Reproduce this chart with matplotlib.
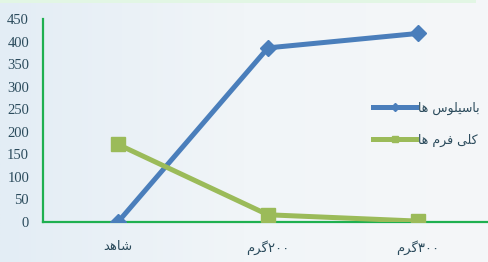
import numpy as np
import matplotlib.pyplot as plt
from matplotlib.colors import LinearSegmentedColormap

# متن‌ها با شکل‌های نمایشی عربی و ترتیب دیداری نوشته شده‌اند
categories = ["\uFEAA\uFEEB\uFE8E\uFEB7",               # شاهد
              "\uFEE1\uFEAE\uFB94\u06F2\u06F0\u06F0",   # ۲۰۰گرم
              "\uFEE1\uFEAE\uFB94\u06F3\u06F0\u06F0"]   # ۳۰۰گرم
bacillus = [0, 386, 418]
coliform = [172, 16, 2]
series_names = ["\uFE8E\uFEEB \uFEB1\uFEEE\uFEE0\uFBFF\uFEB3\uFE8E\uFE91",  # باسیلوس ها
                "\uFE8E\uFEEB \uFEE1\uFEAE\uFED3 \uFBFD\uFEE0\uFB90"]        # کلی فرم ها
yticks = [0, 50, 100, 150, 200, 250, 300, 350, 400, 450]

text_col = "#2b4b5c"
axis_col = "#1fb050"

fig = plt.figure(figsize=(4.88, 2.62), dpi=100)

# پس‌زمینه گرادیانی
bg = fig.add_axes([0, 0, 1, 1], zorder=-10)
grad = np.linspace(0, 1, 256).reshape(1, -1)
cmap = LinearSegmentedColormap.from_list("bg", ["#e3edf5", "#f1f5f8", "#f5f7f9"])
bg.imshow(grad, aspect="auto", cmap=cmap, extent=[0, 1, 0, 1])
bg.add_patch(plt.Rectangle((0, 0.988), 0.975, 0.02, color="#e2f6e4", lw=0))
bg.set_xlim(0, 1)
bg.set_ylim(0, 1)
bg.axis("off")

ax = fig.add_axes([43 / 488, 40 / 262, 450 / 488, 203 / 262])
ax.patch.set_alpha(0)
x = np.arange(len(categories))
ax.plot(x, bacillus, color="#4a7ebb", lw=3.6, marker="D", ms=8,
        label=series_names[0], zorder=3)
ax.plot(x, coliform, color="#9bbb59", lw=3.6, marker="s", ms=9.5,
        label=series_names[1], zorder=3)

ax.set_xlim(-0.5, 2.5)
ax.set_ylim(0, 450)
ax.set_yticks(yticks)
ax.set_yticklabels([str(v) for v in yticks], fontfamily="Liberation Serif",
                   fontsize=10.5, color=text_col)
ax.set_xticks(x)
ax.set_xticklabels(categories, fontfamily="DejaVu Sans", fontsize=9.5,
                   color=text_col)
ax.tick_params(axis="both", length=0)
ax.tick_params(axis="y", pad=10)
ax.tick_params(axis="x", pad=13)
for s in ["top", "right"]:
    ax.spines[s].set_visible(False)
for s in ["left", "bottom"]:
    ax.spines[s].set_color(axis_col)
    ax.spines[s].set_linewidth(1.6)

leg = ax.legend(loc="center left", bbox_to_anchor=(362 / 488, 1 - 124 / 262),
                bbox_transform=fig.transFigure, frameon=False,
                handlelength=3.4, handletextpad=0.15, labelspacing=1.5,
                markerscale=0.45, prop={"family": "DejaVu Sans", "size": 9})
for t in leg.get_texts():
    t.set_color(text_col)

fig.savefig("out.png", dpi=100)
